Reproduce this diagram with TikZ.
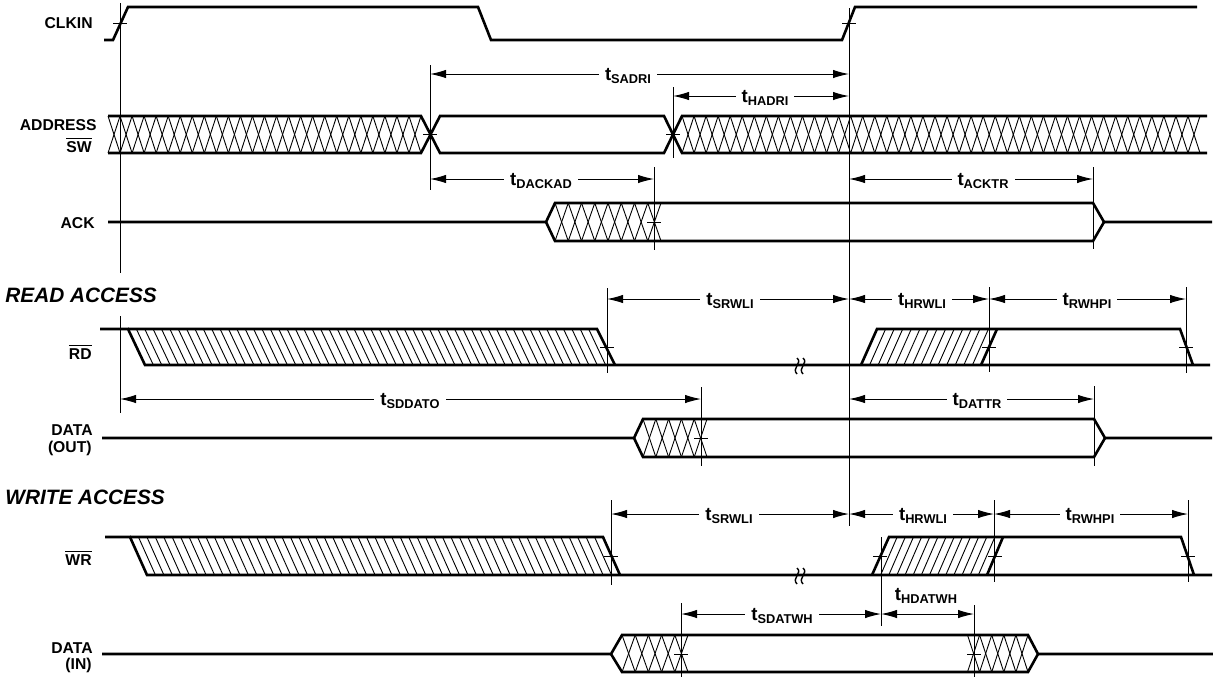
\documentclass[tikz,border=0pt]{standalone}
\usepackage{fontspec}
\setmainfont{Liberation Sans}
\usetikzlibrary{arrows.meta}

\newcommand{\tsub}[1]{{\fontsize{9.3}{10}\selectfont t}\raisebox{-1.5pt}{\fontsize{6.4}{7}\selectfont #1}}
\newcommand{\ovl}[1]{$\overline{\mbox{#1}}$}
% x1, x2, ytop, ybot, number of crosses
\newcommand{\crosshatch}[5]{%
  \pgfmathsetmacro{\hatchp}{(#2-#1)/#5}%
  \foreach \i in {1,...,#5}{%
    \draw[hatch] ({#1+(\i-1)*\hatchp},#3) -- ({#1+\i*\hatchp},#4);
    \draw[hatch] ({#1+\i*\hatchp},#3) -- ({#1+(\i-1)*\hatchp},#4);
  }}
% x1, x2 (top), ytop, ybot, dx, steps
\newcommand{\slanthatch}[6]{%
  \pgfmathsetmacro{\hatchp}{(#2-#1)/#6}%
  \pgfmathtruncatemacro{\hatchn}{#6-1}%
  \foreach \i in {1,...,\hatchn}{%
    \draw[hatch] ({#1+\i*\hatchp},#3) -- ({#1+\i*\hatchp+(#5)},#4);
  }}

\begin{document}
\begin{tikzpicture}[x=0.5pt, y=-0.5pt,
                    sig/.style={line width=1.3pt},
                    hair/.style={line width=0.5pt},
                    hatch/.style={line width=0.45pt},
                    tarr/.style={hair, {Latex[length=8pt,width=4.2pt]}-{Latex[length=8pt,width=4.2pt]}},
                    tlab/.style={font=\bfseries, fill=white, inner xsep=3pt, inner ysep=0.5pt, anchor=base},
                    siglbl/.style={font=\fontsize{7.85}{9}\selectfont\bfseries, anchor=base east, inner sep=0pt},
                    sect/.style={font=\fontsize{10.4}{12}\selectfont\bfseries\itshape, anchor=base west, inner sep=0pt}]
\useasboundingbox (0,0) rectangle (1213,677);

% signal names
\node[siglbl] (clkin) at (93,28.5) {CLKIN};
\node[siglbl] (addr) at (97,130) {ADDRESS};
\node[siglbl] (sw) at (92,152.5) {\ovl{SW}};
\node[siglbl] (ack) at (95,228) {ACK};
\node[sect] (read) at (5,302) {READ ACCESS};
\node[siglbl] (rd) at (92,359) {\ovl{RD}};
\node[siglbl] (dout) at (93,435) {DATA};
\node[siglbl] (dout2) at (92,452) {(OUT)};
\node[sect] (write) at (5,504) {WRITE ACCESS};
\node[siglbl] (wr) at (92,565) {\ovl{WR}};
\node[siglbl] (din) at (93,653) {DATA};
\node[siglbl] (din2) at (92,669) {(IN)};

% CLKIN
\draw[sig] (104,40) -- (113,40) -- (128,7) -- (478,7) -- (491,40) -- (842,40) -- (855,7) -- (1197,7);

% ADDRESS / SW
\draw[sig] (108,116) -- (421,116) -- (440,153) -- (664,153) -- (682,116) -- (1207,116);
\draw[sig] (108,153) -- (421,153) -- (440,116) -- (664,116) -- (682,153) -- (1207,153);
\crosshatch{108}{421}{116}{153}{26}
\crosshatch{682}{1200}{116}{153}{43}

% ACK
\draw[sig] (108,222) -- (546,222) -- (555,203) -- (1093,203) -- (1104,222) -- (1212,222);
\draw[sig] (546,222) -- (555,241) -- (1093,241) -- (1104,222);
\crosshatch{555}{661}{203}{241}{8}

% RD
\draw[sig] (100,329) -- (128,329) -- (145,365) -- (1210,365);
\draw[sig] (128,329) -- (597,329) -- (615,365);
\draw[sig] (861,365) -- (877,329) -- (1180,329) -- (1193,365);
\draw[sig] (981,365) -- (997,329);
\slanthatch{128}{597}{329}{365}{17}{56}
\slanthatch{877}{997}{329}{365}{-16}{14}

% DATA (OUT)
\draw[sig] (102,438) -- (634,438) -- (643,419) -- (1094,419) -- (1105,438) -- (1212,438);
\draw[sig] (634,438) -- (643,457) -- (1094,457) -- (1105,438);
\crosshatch{643}{707}{419}{457}{5}

% WR
\draw[sig] (105,537) -- (130,537) -- (147,575) -- (1212,575);
\draw[sig] (130,537) -- (603,537) -- (620,575);
\draw[sig] (872,575) -- (889,537) -- (1181,537) -- (1194,575);
\draw[sig] (987,575) -- (1003,537);
\slanthatch{130}{603}{537}{575}{17}{56}
\slanthatch{889}{1003}{537}{575}{-16.5}{14}

% DATA (IN)
\draw[sig] (102,654) -- (611,654) -- (622,635) -- (1028,635) -- (1038,654) -- (1213,654);
\draw[sig] (611,654) -- (622,672) -- (1028,672) -- (1038,654);
\crosshatch{622}{688}{635}{672}{5}
\crosshatch{967.5}{1028}{635}{672}{5}

% breaks
\foreach \sy in {365,575}
  \foreach \sx in {797,803}
    \draw[line width=0.7pt] (\sx,{\sy-7}) .. controls ({\sx+6},{\sy-2}) and ({\sx-6},{\sy+3}) .. (\sx,{\sy+9});

% reference lines
\foreach \lx/\ya/\yb in {120/3/273, 120/316/413, 849/8/526, 430/65/190, 673/87/158,
                         654/167/250, 1093/167/249, 607/288/373, 989/287/372, 1186/287/373,
                         701/387/466, 1094/386/466, 611/500/585, 994/500/582, 1188/500/582,
                         881/537/626, 681/603/677, 974/605/677}
  \draw[hair] (\lx,\ya) -- (\lx,\yb);

% ticks
\foreach \kx/\ky in {120/23, 849/23, 430/134.5, 673/134.5, 654/222, 607/347, 989/347,
                     1186/347, 701/438, 611/556, 880/556, 995/556, 1188/556, 681/654, 974/654}
  \draw[hair] ({\kx-7},\ky) -- ({\kx+7},\ky);

% timing parameters
\foreach \tname/\xa/\xb/\yy/\xl in {SADRI/430/849/74/628, HADRI/673/849/96/765,
    DACKAD/430/654/179/541, ACKTR/849/1093/179/983, SRWLI/607/849/299/730,
    HRWLI/849/989/299/922, RWHPI/989/1186/299/1087, SDDATO/120/701/399/410,
    DATTR/849/1094/399/977, SRWLI/611/849/514/729, HRWLI/849/994/514/923,
    RWHPI/994/1188/514/1090, SDATWH/681/881/614/782}
{
  \coordinate (\tname-\yy-a) at (\xa,\yy);
  \coordinate (\tname-\yy-b) at (\xb,\yy);
  \draw[tarr] (\tname-\yy-a) -- (\tname-\yy-b);
  \node[tlab] (\tname-\yy) at (\xl,{\yy+6}) {\tsub{\tname}};
}
\coordinate (hdatwh-a) at (881,614);
\coordinate (hdatwh-b) at (974,614);
\draw[tarr] (hdatwh-a) -- (hdatwh-b);
\node[tlab, fill=none] (hdatwh) at (926,600) {\tsub{HDATWH}};
\end{tikzpicture}
\end{document}
